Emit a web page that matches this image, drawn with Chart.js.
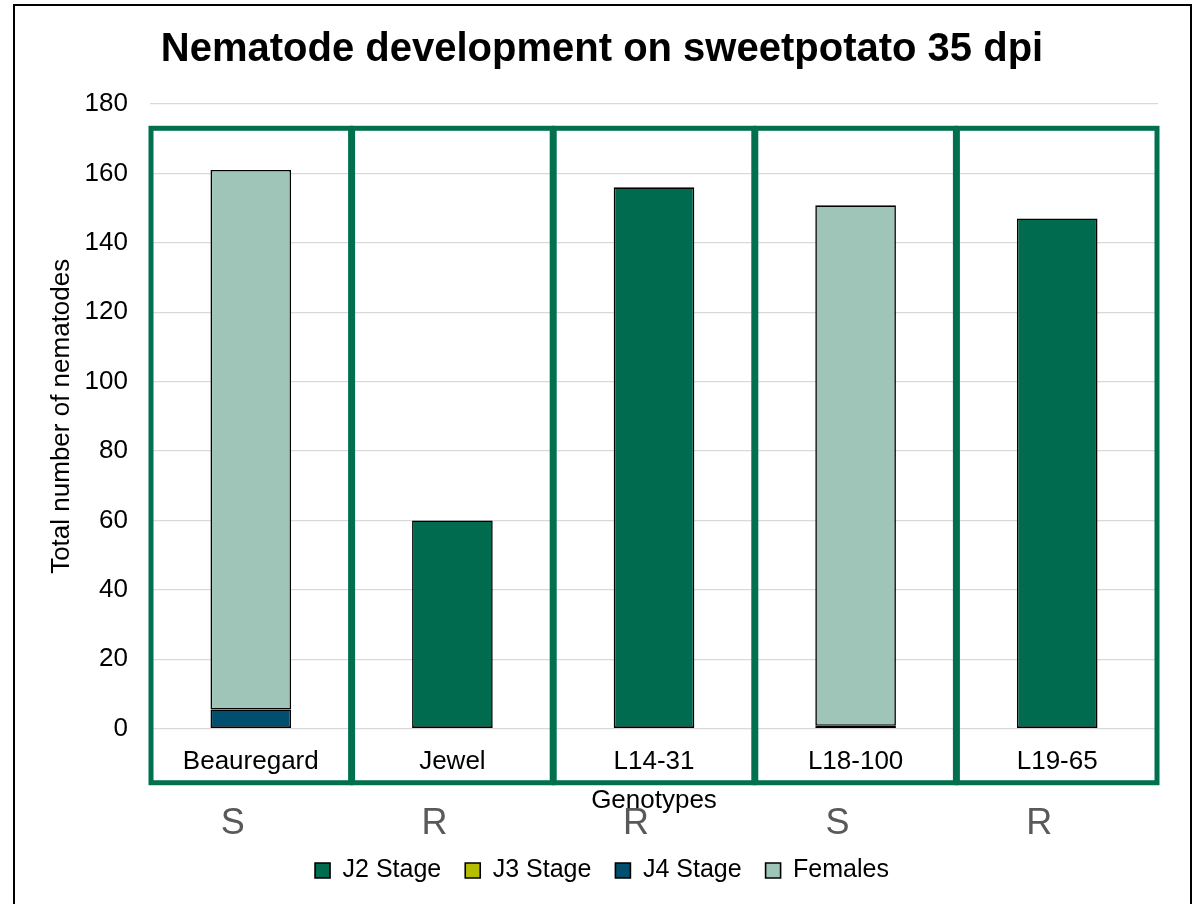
<!DOCTYPE html>
<html>
<head>
<meta charset="utf-8">
<title>Nematode development on sweetpotato 35 dpi</title>
<script src="https://cdn.jsdelivr.net/npm/chart.js@4.4.1/dist/chart.umd.min.js"></script>
<style>
  html, body { margin: 0; padding: 0; background: #ffffff; }
  #wrap { width: 1201px; height: 904px; position: relative; }
</style>
</head>
<body>
<div id="wrap"><canvas id="nematode-chart"></canvas></div>
<script>
// categories and series
var genotypes = ["Beauregard", "Jewel", "L14-31", "L18-100", "L19-65"];
var j2Stage = [0, 60, 156, 0, 147];
var j3Stage = [0, 0, 0, 0, 0];
var j4Stage = [5.5, 0, 0, 0.8, 0];
var females = [155.5, 0, 0, 150, 0];
var resistance = ["S", "R", "R", "S", "R"];   // note under each genotype
var yTicks = [0, 20, 40, 60, 80, 100, 120, 140, 160, 180];

var FONT = "'Liberation Sans', Arial, sans-serif";
var boxGreen = "#00704F";

// frame round the whole chart, green boxes per genotype, S/R notes
var decorations = {
    id: "decorations",
    beforeDraw: function (chart) {
        var ctx = chart.ctx;
        ctx.save();
        ctx.strokeStyle = "#000000";
        ctx.lineWidth = 2;
        ctx.strokeRect(14, 5, chart.width - 24, chart.height + 20);
        ctx.restore();
    },
    afterDatasetsDraw: function (chart) {
        var ctx = chart.ctx;
        var x = chart.scales.x, y = chart.scales.y;
        var half = (x.getPixelForValue(1) - x.getPixelForValue(0)) / 2;
        var top = y.getPixelForValue(173);
        var bottom = y.getPixelForValue(-15.6);
        ctx.save();
        ctx.strokeStyle = boxGreen;
        ctx.lineWidth = 5;
        genotypes.forEach(function (g, i) {
            var cx = x.getPixelForValue(i);
            ctx.strokeRect(cx - half + 1, top, half * 2 - 2, bottom - top);
        });
        ctx.restore();
    },
    afterDraw: function (chart) {
        var ctx = chart.ctx;
        var x = chart.scales.x;
        ctx.save();
        ctx.fillStyle = "#595959";
        ctx.font = "36px " + FONT;
        ctx.textAlign = "center";
        ctx.textBaseline = "middle";
        resistance.forEach(function (r, i) {
            ctx.fillText(r, x.getPixelForValue(i) - 18, chart.chartArea.bottom + 95);
        });
        ctx.restore();
    }
};

function series(label, data, color) {
    return {
        label: label,
        data: data,
        backgroundColor: color,
        borderColor: "#000000",
        borderWidth: 1.6,
        borderSkipped: false,
        categoryPercentage: 1,
        barPercentage: 0.4
    };
}

var config = {
    type: "bar",
    data: {
        labels: genotypes,
        datasets: [
            series("J2 Stage", j2Stage, "#006B4F"),
            series("J3 Stage", j3Stage, "#B5BD00"),
            series("J4 Stage", j4Stage, "#004F6E"),
            series("Females", females, "#9FC5B9")
        ]
    },
    plugins: [decorations],
    options: {
        responsive: true,
        maintainAspectRatio: false,
        animation: false,
        layout: { padding: { left: 46, right: 43, top: 0, bottom: 11 } },
        scales: {
            x: {
                stacked: true,
                grid: { display: false, drawTicks: false },
                border: { display: false },
                ticks: { color: "#000000", font: { family: FONT, size: 26 }, padding: 18 },
                title: {
                    display: true,
                    text: "Genotypes",
                    color: "#000000",
                    font: { family: FONT, size: 26 },
                    padding: { top: -11, bottom: 18 }
                }
            },
            y: {
                stacked: true,
                min: 0,
                max: 180,
                afterBuildTicks: function (scale) {
                    scale.ticks = yTicks.map(function (v) { return { value: v }; });
                },
                afterFit: function (scale) { scale.width = 104; },
                grid: { color: "#D9D9D9", lineWidth: 1.3, drawTicks: false },
                border: { display: false },
                ticks: { color: "#000000", font: { family: FONT, size: 26 }, padding: 22 },
                title: {
                    display: true,
                    text: "Total number of nematodes",
                    color: "#000000",
                    font: { family: FONT, size: 26 },
                    padding: { top: 0, bottom: 0 }
                }
            }
        },
        plugins: {
            title: {
                display: true,
                text: "Nematode development on sweetpotato 35 dpi",
                color: "#000000",
                font: { family: FONT, size: 40, weight: "bold" },
                padding: { top: 26, bottom: 30 }
            },
            legend: {
                position: "bottom",
                labels: {
                    color: "#000000",
                    font: { family: FONT, size: 25 },
                    boxWidth: 15,
                    boxHeight: 15,
                    padding: 24
                }
            },
            tooltip: { enabled: false }
        }
    }
};

var nematodeChart = new Chart(document.getElementById("nematode-chart"), config);
</script>
</body>
</html>
